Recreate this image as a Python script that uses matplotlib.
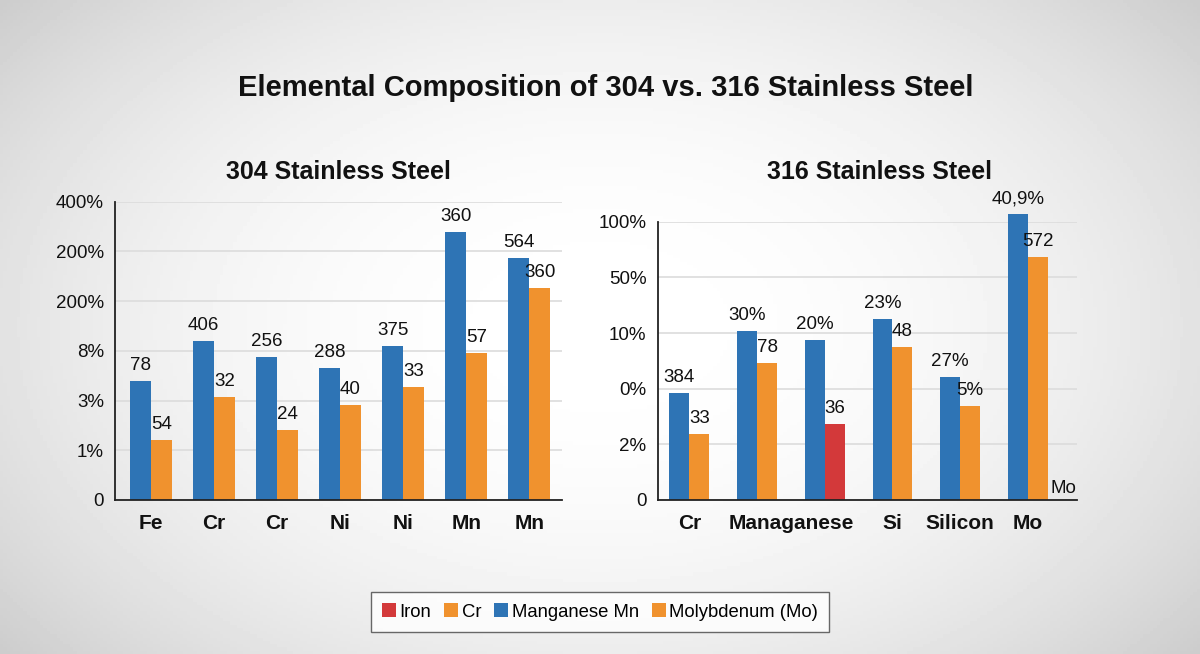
import numpy as np
import matplotlib
matplotlib.use("Agg")
import matplotlib.pyplot as plt
from matplotlib.patches import Patch

plt.rcParams['font.family'] = ['Liberation Sans', 'DejaVu Sans']

# ---------------- data ----------------
title = "Elemental Composition of 304 vs. 316 Stainless Steel"

left_title = "304 Stainless Steel"
left_cats = ["Fe", "Cr", "Cr", "Ni", "Ni", "Mn", "Mn"]
left_blue = [2.4, 3.2, 2.88, 2.65, 3.09, 5.4, 4.87]
left_orange = [1.21, 2.07, 1.41, 1.92, 2.27, 2.95, 4.27]
left_blue_labels = ["78", "406", "256", "288", "375", "360", "564"]
left_orange_labels = ["54", "32", "24", "40", "33", "57", "360"]
left_yticklabels = ["0", "1%", "3%", "8%", "200%", "200%", "400%"]

right_title = "316 Stainless Steel"
right_blue = [1.93, 3.04, 2.87, 3.26, 2.21, 5.13]
right_second = [1.18, 2.46, 1.36, 2.75, 1.69, 4.36]
right_second_is_iron = [False, False, True, False, False, False]
right_blue_labels = ["384", "30%", "20%", "23%", "27%", "40,9%"]
right_second_labels = ["33", "78", "36", "48", "5%", "572"]
right_xtick_pos = [0, 1.5, 3, 4, 5]
right_xticklabels = ["Cr", "Managanese", "Si", "Silicon", "Mo"]
right_yticklabels = ["0", "2%", "0%", "10%", "50%", "100%"]
right_corner_label = "Mo"

legend_labels = ["Iron", "Cr", "Manganese Mn", "Molybdenum (Mo)"]

# ---------------- style ----------------
BLUE = "#2e74b5"
ORANGE = "#f0922e"
RED = "#d3393a"
GRID = "#dcdcdc"
TXT = "#111111"

W, H = 1200, 654
fig = plt.figure(figsize=(W / 100, H / 100), dpi=100)

# background radial gradient
bg = fig.add_axes([0, 0, 1, 1], zorder=-10)
yy, xx = np.mgrid[0:1:200j, 0:1:360j]
r = np.sqrt(((xx - 0.5) / 0.62) ** 2 + ((yy - 0.5) / 0.75) ** 2)
val = 1.0 - 0.18 * np.clip(r, 0, 1.2) ** 2.2
bg.imshow(val, cmap="gray", vmin=0, vmax=1, aspect="auto", extent=[0, 1, 0, 1])
bg.axis("off")


def px_axes(x0, x1, ybot, ytop):
    return fig.add_axes([x0 / W, 1 - ybot / H, (x1 - x0) / W, (ybot - ytop) / H])


def style(ax):
    ax.set_facecolor("none")
    for s in ["top", "right"]:
        ax.spines[s].set_visible(False)
    for s in ["left", "bottom"]:
        ax.spines[s].set_color("#222222")
        ax.spines[s].set_linewidth(1.3)
    ax.yaxis.grid(True, color=GRID, linewidth=1.2)
    ax.set_axisbelow(True)
    ax.tick_params(axis="y", length=0, labelsize=13.5, pad=8, labelcolor=TXT)
    ax.tick_params(axis="x", length=0, labelsize=15, pad=10, labelcolor=TXT)


def label_bars(ax, bars, labels):
    for t in ax.bar_label(bars, labels=labels, padding=5, fontsize=13.5, color=TXT):
        t.set_annotation_clip(False)


# ---------------- left panel ----------------
axL = px_axes(115, 562, 500, 201.7)
style(axL)
xl = np.arange(len(left_cats))
bw = 0.33
bL1 = axL.bar(xl - bw / 2, left_blue, bw, color=BLUE, clip_on=False)
bL2 = axL.bar(xl + bw / 2, left_orange, bw, color=ORANGE, clip_on=False)
label_bars(axL, bL1, left_blue_labels)
label_bars(axL, bL2, left_orange_labels)
axL.set_xlim(-0.57, 6.52)
axL.set_ylim(0, 6)
axL.set_yticks(range(len(left_yticklabels)))
axL.set_yticklabels(left_yticklabels)
axL.set_xticks(xl)
axL.set_xticklabels(left_cats, fontweight="bold")

# ---------------- right panel ----------------
axR = px_axes(657.7, 1076.7, 500, 221.7)
style(axR)
xr = np.arange(len(right_blue))
bw2 = 0.295
bR1 = axR.bar(xr - bw2 / 2, right_blue, bw2, color=BLUE, clip_on=False)
second_colors = [RED if f else ORANGE for f in right_second_is_iron]
bR2 = axR.bar(xr + bw2 / 2, right_second, bw2, color=second_colors, clip_on=False)
label_bars(axR, bR1, right_blue_labels)
label_bars(axR, bR2, right_second_labels)
axR.set_xlim(-0.467, 5.72)
axR.set_ylim(0, 5)
axR.set_yticks(range(len(right_yticklabels)))
axR.set_yticklabels(right_yticklabels)
axR.set_xticks(right_xtick_pos)
axR.set_xticklabels(right_xticklabels, fontweight="bold")
axR.text(5.71, 0.05, right_corner_label, ha="right", va="bottom", fontsize=13.5,
         color=TXT)

# ---------------- titles ----------------
fig.text(606 / W, 1 - 88 / H, title, ha="center", va="center",
         fontsize=21, fontweight="bold", color=TXT)
fig.text(338 / W, 1 - 172 / H, left_title, ha="center", va="center",
         fontsize=18, fontweight="bold", color=TXT)
fig.text(880 / W, 1 - 172 / H, right_title, ha="center", va="center",
         fontsize=18, fontweight="bold", color=TXT)

# ---------------- legend ----------------
handles = [Patch(facecolor=c, edgecolor="none") for c in [RED, ORANGE, BLUE, ORANGE]]
leg = fig.legend(handles, legend_labels, loc="center", bbox_to_anchor=(600 / W, 1 - 612 / H),
                 ncol=4, frameon=True, fancybox=False, fontsize=13.3,
                 handlelength=0.75, handleheight=0.75, handletextpad=0.2,
                 columnspacing=0.7, borderpad=0.6)
leg.get_frame().set_edgecolor("#444444")
leg.get_frame().set_linewidth(1.0)
leg.get_frame().set_facecolor("white")

fig.savefig("out.png", dpi=100)
